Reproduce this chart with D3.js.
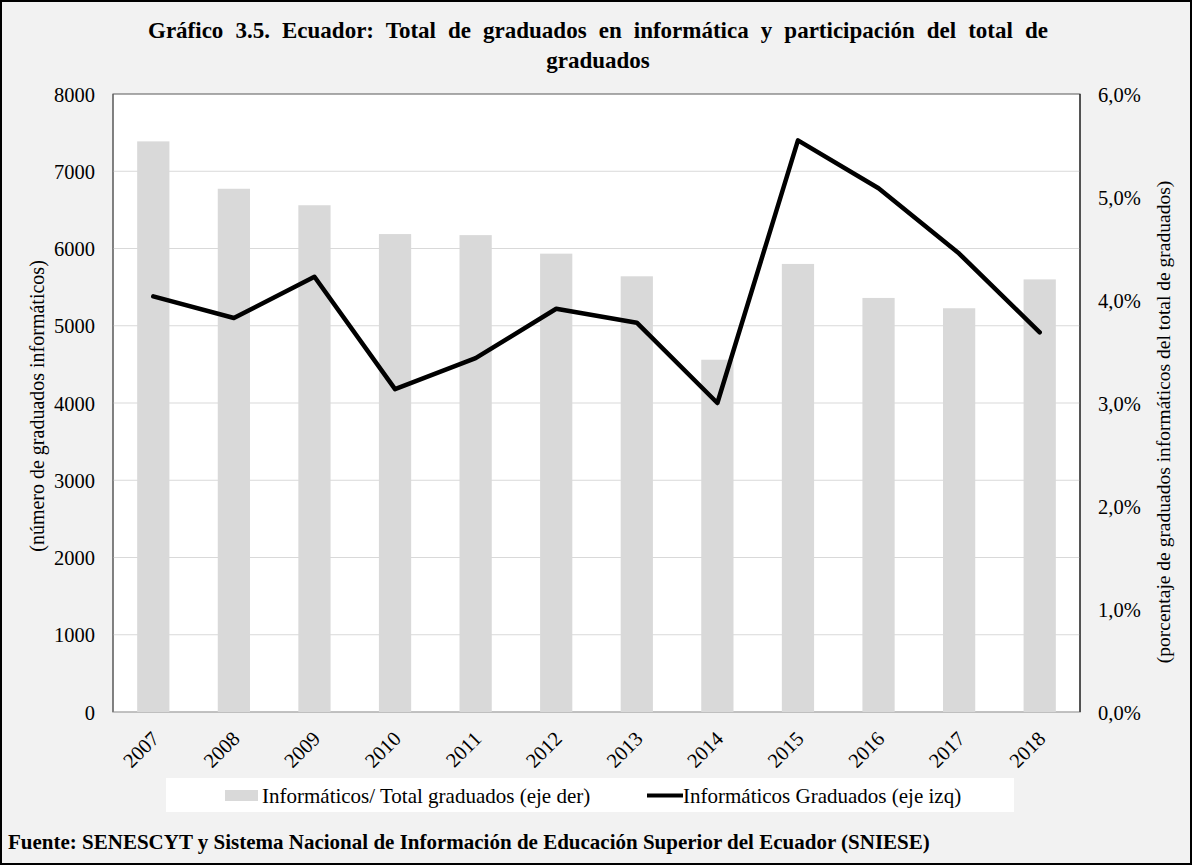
<!DOCTYPE html>
<html>
<head>
<meta charset="utf-8">
<script src="https://cdn.jsdelivr.net/npm/d3@7"></script>
<style>
  body { margin: 0; background: #fff; }
</style>
</head>
<body>
<div id="chart"></div>
<script>
const years = ['2007', '2008', '2009', '2010', '2011', '2012', '2013', '2014', '2015', '2016', '2017', '2018'];
// share of informatics graduates in total graduates (%), right axis
const shareValues = [5.54, 5.08, 4.92, 4.64, 4.63, 4.45, 4.23, 3.42, 4.35, 4.02, 3.92, 4.20];
// informatics graduates, left axis
const gradValues = [5380, 5100, 5635, 4180, 4580, 5220, 5040, 4000, 7400, 6780, 5935, 4915];
const leftTicks = [0, 1000, 2000, 3000, 4000, 5000, 6000, 7000, 8000];
const rightTicks = [0, 1, 2, 3, 4, 5, 6];

const FONT = '"Liberation Serif", "Times New Roman", "DejaVu Serif", serif';
const W = 1192, H = 865;
const plot = { left: 113, right: 1080, top: 94, bottom: 712 };

const svg = d3.select('#chart').append('svg')
  .attr('width', W)
  .attr('height', H)
  .attr('font-family', FONT)
  .style('font-family', FONT);

svg.append('rect')
  .attr('x', 1).attr('y', 1)
  .attr('width', W - 2).attr('height', H - 2)
  .attr('fill', '#f2f2f2')
  .attr('stroke', '#000')
  .attr('stroke-width', 2);

svg.append('rect')
  .attr('x', plot.left).attr('y', plot.top)
  .attr('width', plot.right - plot.left).attr('height', plot.bottom - plot.top)
  .attr('fill', '#fff')
  .attr('stroke', '#595959')
  .attr('stroke-width', 1);

const x = d3.scaleBand()
  .domain(years)
  .range([plot.left, plot.right])
  .paddingInner(0.6)
  .paddingOuter(0.3);

const yLeft = d3.scaleLinear().domain([0, 8000]).range([plot.bottom, plot.top]);
const yRight = d3.scaleLinear().domain([0, 6]).range([plot.bottom, plot.top]);

// gridlines
svg.append('g')
  .selectAll('line')
  .data(leftTicks.slice(0, -1))
  .enter()
  .append('line')
  .attr('x1', plot.left).attr('x2', plot.right)
  .attr('y1', d => yLeft(d)).attr('y2', d => yLeft(d))
  .attr('stroke', '#d9d9d9')
  .attr('stroke-width', 1);

// bars
svg.append('g')
  .selectAll('rect')
  .data(shareValues)
  .enter()
  .append('rect')
  .attr('x', (d, i) => x(years[i]))
  .attr('width', x.bandwidth())
  .attr('y', d => yRight(d))
  .attr('height', d => plot.bottom - yRight(d))
  .attr('fill', '#d9d9d9');

// axis lines
svg.append('line')
  .attr('x1', plot.left).attr('x2', plot.left)
  .attr('y1', plot.top).attr('y2', plot.bottom)
  .attr('stroke', '#595959');
svg.append('line')
  .attr('x1', plot.right).attr('x2', plot.right)
  .attr('y1', plot.top).attr('y2', plot.bottom)
  .attr('stroke', '#000');

// line
const line = d3.line()
  .x((d, i) => x(years[i]) + x.bandwidth() / 2)
  .y(d => yLeft(d));

svg.append('path')
  .datum(gradValues)
  .attr('d', line)
  .attr('fill', 'none')
  .attr('stroke', '#000')
  .attr('stroke-width', 4.5)
  .attr('stroke-linejoin', 'round')
  .attr('stroke-linecap', 'round');

function styleAxis(g) {
  g.attr('font-family', FONT).attr('font-size', 20.5);
  g.select('.domain').remove();
  g.selectAll('text')
    .attr('fill', '#000')
    .style('font-family', FONT)
    .style('font-size', '20.5px');
}

// left axis
const leftAxis = d3.axisLeft(yLeft).tickValues(leftTicks).tickSize(0).tickPadding(18)
  .tickFormat(d3.format('d'));
svg.append('g')
  .attr('transform', `translate(${plot.left},0)`)
  .call(leftAxis)
  .call(styleAxis)
  .selectAll('text')
  .attr('dy', '0.35em');

// right axis
const rightAxis = d3.axisRight(yRight).tickValues(rightTicks).tickSize(0).tickPadding(18)
  .tickFormat(d => d3.format('.1f')(d).replace('.', ',') + '%');
svg.append('g')
  .attr('transform', `translate(${plot.right},0)`)
  .call(rightAxis)
  .call(styleAxis)
  .selectAll('text')
  .attr('dy', '0.35em');

// x axis
const xAxis = d3.axisBottom(x).tickSize(0).tickPadding(0);
svg.append('g')
  .attr('transform', `translate(0,${plot.bottom})`)
  .call(xAxis)
  .call(styleAxis)
  .selectAll('text')
  .attr('text-anchor', 'end')
  .attr('dy', '0.35em')
  .attr('transform', 'translate(2,23) rotate(-45)');

function addText(xPos, yPos, str, size, opts = {}) {
  const t = svg.append('text')
    .attr('x', xPos).attr('y', yPos)
    .attr('text-anchor', opts.anchor || 'start')
    .style('font-family', FONT)
    .style('font-size', size + 'px')
    .style('font-weight', opts.bold ? 'bold' : 'normal')
    .attr('fill', '#000')
    .text(str);
  if (opts.transform) t.attr('transform', opts.transform);
  return t;
}

// axis titles
addText(0, 0, '(número de graduados informáticos)', 20,
  { anchor: 'middle', transform: 'translate(44,406) rotate(-90)' });
addText(0, 0, '(porcentaje de graduados informáticos del total de graduados)', 19.5,
  { anchor: 'middle', transform: 'translate(1170,422) rotate(-90)' });

// title, spread over the same width as the original
const t1 = addText(598, 38, 'Gráfico 3.5. Ecuador: Total de graduados en informática y participación del total de', 23,
  { anchor: 'middle', bold: true });
const t1w = t1.node().getComputedTextLength();
const gaps = t1.text().split(' ').length - 1;
if (t1w < 900) t1.style('word-spacing', ((900 - t1w) / gaps) + 'px');
addText(598, 68, 'graduados', 23, { anchor: 'middle', bold: true });

// legend
const legend = svg.append('g');
legend.append('rect')
  .attr('x', 166).attr('y', 778)
  .attr('width', 848).attr('height', 34)
  .attr('fill', '#fff');
legend.append('rect')
  .attr('x', 225).attr('y', 790)
  .attr('width', 33).attr('height', 11)
  .attr('fill', '#d9d9d9');
addText(262, 803, 'Informáticos/ Total graduados (eje der)', 21);
legend.append('line')
  .attr('x1', 647).attr('x2', 683)
  .attr('y1', 795.5).attr('y2', 795.5)
  .attr('stroke', '#000')
  .attr('stroke-width', 4);
addText(683, 803, 'Informáticos Graduados (eje izq)', 21);

// source
addText(8, 849, 'Fuente: SENESCYT y Sistema Nacional de Información de Educación Superior del Ecuador (SNIESE)', 21,
  { bold: true });
</script>
</body>
</html>
